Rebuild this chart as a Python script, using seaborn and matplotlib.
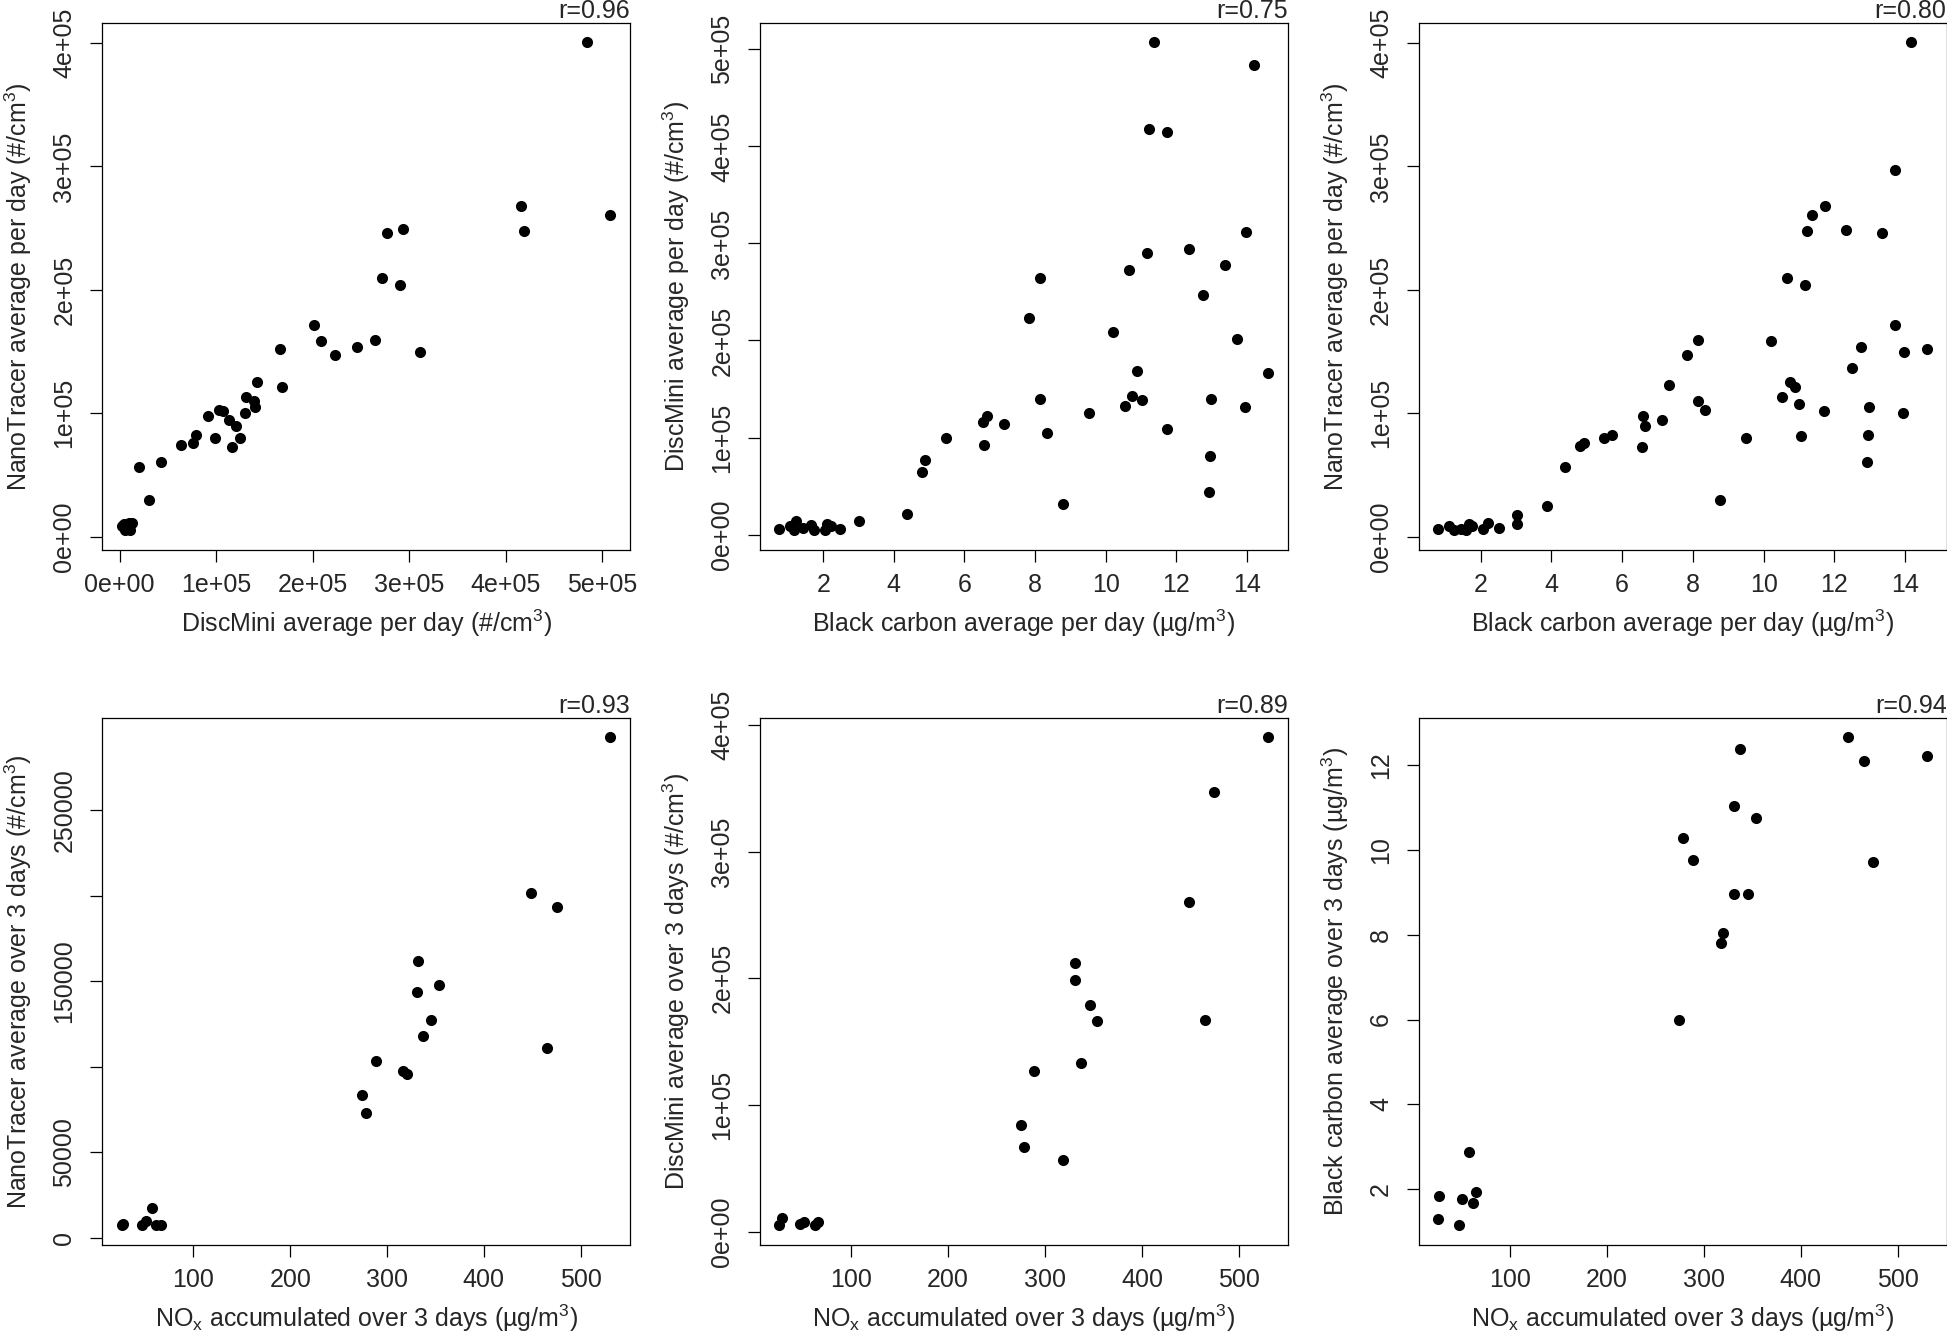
import matplotlib
matplotlib.use('Agg')
import matplotlib.pyplot as plt
import seaborn as sns
import pandas as pd
from matplotlib.ticker import FuncFormatter, FixedLocator

# daily averages: DiscMini vs NanoTracer
dm_day_p1 = [484000, 415500, 419000, 508600, 277300, 293600, 272100, 290100, 201700, 208600,
             222700, 245500, 264800, 311600, 165700, 167800, 142100, 130900, 139100, 139900,
             130000, 91800, 103000, 107300, 113300, 120200, 98300, 124500, 115900, 79400,
             76000, 63500, 43300, 19700, 30500, 2000, 5600, 9900, 13300, 11000, 4300]
nt_day_p1 = [400700, 268000, 247600, 261000, 246200, 248900, 209600, 203600, 171600, 158200,
             147100, 153800, 159600, 149500, 152200, 120900, 125000, 113200, 109800, 104800,
             99800, 98100, 102500, 101800, 94700, 90000, 79900, 79600, 72600, 82300,
             75600, 73900, 60500, 56800, 29900, 8400, 5700, 11100, 11100, 5000, 10000]

# daily averages: black carbon vs DiscMini
bc_day_p2 = [11.38, 14.20, 11.24, 11.74, 13.99, 12.35, 11.18, 13.38, 10.67, 8.14,
             12.76, 7.82, 10.22, 13.71, 10.89, 14.61, 8.14, 10.76, 11.04, 12.99,
             10.54, 13.96, 9.52, 6.65, 6.53, 7.11, 8.33, 11.73, 5.49, 6.56,
             12.96, 4.89, 4.79, 12.93, 8.79, 4.36, 3.01, 0.76, 1.06, 1.22,
             1.18, 1.44, 1.64, 1.74, 2.04, 2.12, 2.22, 2.48]
dm_day_p2 = [507300, 483400, 418000, 415000, 311300, 293800, 289900, 277500, 272400, 264700,
             246400, 223300, 209200, 202000, 168200, 166100, 140000, 143000, 138800, 140000,
             132400, 131100, 125100, 121700, 116100, 114000, 105000, 108500, 99100, 92200,
             80700, 76900, 64900, 44400, 32000, 20900, 14500, 5600, 8500, 13700,
             5100, 6400, 9400, 4300, 5100, 11100, 8500, 6000]

# daily averages: black carbon vs NanoTracer
bc_day_p3 = [14.18, 13.70, 11.73, 11.37, 11.23, 12.33, 13.36, 10.66, 11.17, 13.70,
             8.14, 10.22, 7.83, 12.75, 13.97, 14.62, 12.49, 7.32, 10.76, 10.89,
             10.52, 8.14, 11.01, 8.34, 11.72, 12.99, 13.95, 6.58, 6.66, 7.12,
             5.72, 5.50, 9.51, 11.06, 12.95, 4.82, 4.92, 6.55, 12.92, 4.38,
             8.78, 3.88, 3.03, 3.03, 0.80, 1.12, 1.25, 1.46, 1.59, 1.66,
             1.75, 2.08, 2.22, 2.51]
nt_day_p3 = [400700, 296900, 268000, 260600, 247500, 248500, 246200, 209600, 203500, 171300,
             159200, 158200, 147100, 153500, 149500, 152100, 137000, 122900, 124900, 120900,
             112800, 109800, 107500, 102800, 102100, 104800, 100000, 98100, 90000, 94700,
             82600, 79600, 79600, 81600, 82600, 73200, 75600, 72500, 60500, 56800,
             29900, 24900, 17500, 10100, 6000, 8400, 5000, 6000, 5000, 10000,
             9000, 6000, 11000, 6700]

# 3-day values
nox_3d_p4 = [530.9, 448.9, 475.5, 465.2, 331.8, 331.3, 353.6, 345.5, 337.3, 288.4,
             316.7, 320.6, 274.2, 278.5, 25.8, 27.0, 46.4, 50.6, 57.5, 61.4, 66.1]
nt_3d_p4 = [292900, 201700, 193700, 111200, 162000, 144000, 147700, 127500, 118000, 103400,
            97300, 95600, 83700, 72700, 7100, 7800, 7500, 9700, 17500, 7500, 7100]

nox_3d_p5 = [530.1, 474.4, 448.3, 464.6, 331.1, 330.7, 346.1, 353.4, 337.1, 288.8,
             275.1, 278.5, 317.9, 26.1, 28.2, 47.1, 51.8, 62.5, 66.3]
dm_3d_p5 = [390200, 347300, 260100, 167400, 212300, 198900, 179200, 166400, 133300, 127100,
            84500, 66800, 56300, 5200, 11100, 6200, 7900, 4900, 7900]

nox_3d_p6 = [449.0, 465.3, 530.4, 337.7, 330.9, 353.9, 278.6, 288.9, 474.7, 331.3,
             345.8, 320.1, 317.5, 274.7, 58.5, 27.6, 50.8, 65.7, 61.9, 26.3, 47.3]
bc_3d_p6 = [12.65, 12.10, 12.21, 12.38, 11.03, 10.75, 10.27, 9.76, 9.72, 8.96,
            8.96, 8.04, 7.81, 5.99, 2.87, 1.85, 1.77, 1.93, 1.68, 1.31, 1.15]

r_values = ['r=0.96', 'r=0.75', 'r=0.80', 'r=0.93', 'r=0.89', 'r=0.94']

sns.set_style('ticks')
plt.rcParams['font.family'] = ['Liberation Sans', 'DejaVu Sans']
plt.rcParams['mathtext.fontset'] = 'custom'
plt.rcParams['mathtext.rm'] = 'Liberation Sans'
plt.rcParams['mathtext.it'] = 'Liberation Sans'
plt.rcParams['mathtext.default'] = 'rm'

FS = 18
CM3 = '(#/cm$^3$)'
UGM3 = '(\u00b5g/m$^3$)'
NOX = 'NO$_\\mathregular{x}$ accumulated over 3 days ' + UGM3


def sci_fmt(v, pos):
    if v == 0:
        return '0e+00'
    return f"{v:.0e}"


def draw_panel(ax, x, y, xlabel, ylabel, r_text, xticks, yticks, yfmt=None, ylabels=None):
    df = pd.DataFrame({'x': x, 'y': y})
    sns.scatterplot(data=df, x='x', y='y', ax=ax, color='black', s=64, linewidth=0)
    ax.margins(0.04)
    ax.xaxis.set_major_locator(FixedLocator(xticks))
    ax.yaxis.set_major_locator(FixedLocator(yticks))
    if yfmt is not None:
        ax.yaxis.set_major_formatter(yfmt)
    if ylabels is not None:
        ax.set_yticklabels(ylabels)
    ax.set_xlabel(xlabel, fontsize=FS, labelpad=8)
    ax.set_ylabel(ylabel, fontsize=FS, labelpad=13)
    ax.tick_params(axis='both', direction='out', length=8.4, width=0.9, labelsize=FS, color='black')
    ax.tick_params(axis='x', pad=8)
    ax.tick_params(axis='y', pad=10, labelrotation=90)
    for lab in ax.get_yticklabels():
        lab.set_va('center')
        lab.set_ha('right')
    for sp in ax.spines.values():
        sp.set_visible(True)
        sp.set_color('black')
        sp.set_linewidth(0.9)
    ax.text(1.0, 1.008, r_text, transform=ax.transAxes, ha='right', va='baseline', fontsize=FS)


fig = plt.figure(figsize=(19.47, 13.31), dpi=100)
lefts = [0.0524, 0.3903, 0.7286]
bottoms = [0.5868, 0.0646]
w, h = 0.2712, 0.3962
axs = [[fig.add_axes([l, b, w, h]) for l in lefts] for b in bottoms]

sci = FuncFormatter(sci_fmt)

draw_panel(axs[0][0], dm_day_p1, nt_day_p1,
           'DiscMini average per day ' + CM3, 'NanoTracer average per day ' + CM3, r_values[0],
           [0, 1e5, 2e5, 3e5, 4e5, 5e5], [0, 1e5, 2e5, 3e5, 4e5], yfmt=sci)
axs[0][0].xaxis.set_major_formatter(sci)

draw_panel(axs[0][1], bc_day_p2, dm_day_p2,
           'Black carbon average per day ' + UGM3, 'DiscMini average per day ' + CM3, r_values[1],
           [2, 4, 6, 8, 10, 12, 14], [0, 1e5, 2e5, 3e5, 4e5, 5e5], yfmt=sci)

draw_panel(axs[0][2], bc_day_p3, nt_day_p3,
           'Black carbon average per day ' + UGM3, 'NanoTracer average per day ' + CM3, r_values[2],
           [2, 4, 6, 8, 10, 12, 14], [0, 1e5, 2e5, 3e5, 4e5], yfmt=sci)

draw_panel(axs[1][0], nox_3d_p4, nt_3d_p4,
           NOX, 'NanoTracer average over 3 days ' + CM3, r_values[3],
           [100, 200, 300, 400, 500], [0, 50000, 100000, 150000, 200000, 250000],
           ylabels=['0', '50000', '', '150000', '', '250000'])

draw_panel(axs[1][1], nox_3d_p5, dm_3d_p5,
           NOX, 'DiscMini average over 3 days ' + CM3, r_values[4],
           [100, 200, 300, 400, 500], [0, 1e5, 2e5, 3e5, 4e5], yfmt=sci)

draw_panel(axs[1][2], nox_3d_p6, bc_3d_p6,
           NOX, 'Black carbon average over 3 days ' + UGM3, r_values[5],
           [100, 200, 300, 400, 500], [2, 4, 6, 8, 10, 12])

fig.savefig('out.png', dpi=100)
